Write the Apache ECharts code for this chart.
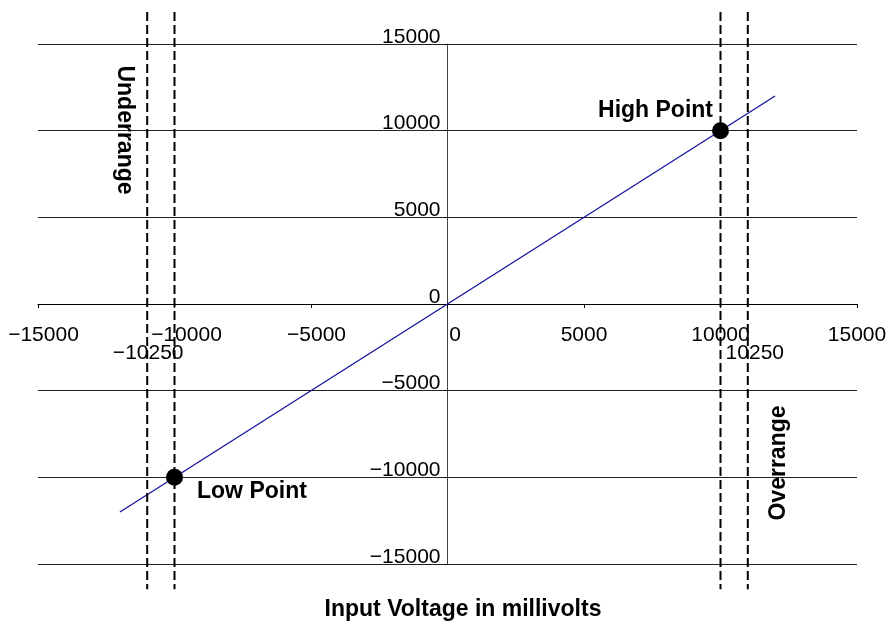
<!DOCTYPE html>
<html>
<head>
<meta charset="utf-8">
<script src="https://cdn.jsdelivr.net/npm/echarts@6/dist/echarts.min.js"></script>
<style>
  html, body { margin: 0; padding: 0; background: #fff; }
  #chart { width: 893px; height: 625px; }
</style>
</head>
<body>
<div id="chart"></div>
<script>
// Transfer line of the converter (input mV -> output counts)
const transferX = [-12000, 12000];
const transferY = [-12000, 12000];

// Calibration points
const pointNames = ['Low Point', 'High Point'];
const pointX = [-10000, 10000];
const pointY = [-10000, 10000];

// Vertical dashed range boundaries
const boundaryX = [-11000, -10000, 10000, 11000];
const boundaryTop = 16850;
const boundaryBottom = -16450;

// Extra labels under the outer boundaries
const boundaryLabelX = [-11000, 11000];
const boundaryLabelText = ['\u221210250', '10250'];

// Axis ticks
const axisMin = -15000;
const axisMax = 15000;
const axisStep = 5000;

const FONT = '"Liberation Sans", Arial, Helvetica, sans-serif';

// plot area geometry; axes cross at the origin, in the middle of the grid
const GRID = { left: 38, top: 44, width: 819, height: 520 };

function fmt(v) {
  return v < 0 ? '\u2212' + Math.abs(v) : String(v);
}

// x tick labels: zero sits right of the y axis, negatives nudged right
function fmtX(v) {
  if (v === 0) return '{z|0}';
  if (v === -10000) return '{m|' + fmt(v) + '}';
  if (v < 0) return '{n|' + fmt(v) + '}';
  return fmt(v);
}

const series = [];

// transfer line
series.push({
  type: 'line',
  data: transferX.map((x, i) => [x, transferY[i]]),
  symbol: 'none',
  lineStyle: { color: '#14149a', width: 1.3 },
  z: 3,
  silent: true
});

// dashed boundaries
boundaryX.forEach(x => {
  series.push({
    type: 'line',
    data: [[x, boundaryTop], [x, boundaryBottom]],
    symbol: 'none',
    clip: false,
    lineStyle: { color: '#000', width: 2, type: [9, 4] },
    z: 4,
    silent: true
  });
});

// calibration points
series.push({
  type: 'scatter',
  data: pointX.map((x, i) => ({
    value: [x, pointY[i]],
    name: pointNames[i],
    label: i === 0
      ? { position: 'right', distance: 14, offset: [0, 14] }
      : { position: 'left', distance: -1, offset: [0, -20] }
  })),
  symbol: 'circle',
  symbolSize: 17,
  itemStyle: { color: '#000', opacity: 1 },
  label: {
    show: true,
    formatter: p => p.name,
    fontFamily: FONT,
    fontWeight: 'bold',
    fontSize: 23,
    color: '#000'
  },
  z: 5,
  silent: true
});

// boundary labels below the x axis labels
series.push({
  type: 'scatter',
  data: boundaryLabelX.map((x, i) => ({
    value: [x, 0],
    name: boundaryLabelText[i],
    label: { offset: [i === 1 ? 7 : 1, 0] }
  })),
  symbolSize: 0,
  clip: false,
  itemStyle: { opacity: 1 },
  label: {
    show: true,
    position: 'bottom',
    distance: 39,
    formatter: p => p.name,
    fontFamily: FONT,
    fontSize: 21,
    color: '#000'
  },
  z: 6,
  silent: true
});

const tickText = { fontFamily: FONT, fontSize: 21, color: '#000' };

const chart = echarts.init(document.getElementById('chart'), null, { renderer: 'canvas' });

chart.setOption({
  animation: false,
  backgroundColor: '#fff',
  grid: {
    left: GRID.left, top: GRID.top, width: GRID.width, height: GRID.height,
    containLabel: false, outerBoundsMode: 'none'
  },
  title: {
    text: 'Input Voltage in millivolts',
    left: 463,
    top: 598,
    textAlign: 'center',
    padding: 0,
    textStyle: { fontFamily: FONT, fontWeight: 'bold', fontSize: 23, color: '#000' }
  },
  xAxis: {
    type: 'value',
    min: axisMin,
    max: axisMax,
    interval: axisStep,
    position: 'bottom',
    offset: -GRID.height / 2,
    axisLine: { onZero: false, lineStyle: { color: '#000', width: 1 } },
    axisTick: { show: true, length: 4, lineStyle: { color: '#000' } },
    axisLabel: Object.assign({}, tickText, {
      margin: 21,
      formatter: fmtX,
      rich: {
        z: Object.assign({}, tickText, { padding: [0, 0, 0, 15] }),
        n: Object.assign({}, tickText, { padding: [0, 0, 0, 11] }),
        m: Object.assign({}, tickText, { padding: [0, 0, 0, 24] })
      }
    }),
    splitLine: { show: false }
  },
  yAxis: {
    type: 'value',
    min: axisMin,
    max: axisMax,
    interval: axisStep,
    position: 'left',
    offset: -GRID.width / 2,
    axisLine: { onZero: false, lineStyle: { color: '#444', width: 1 } },
    axisTick: { show: true, length: 3, lineStyle: { color: '#000' } },
    axisLabel: Object.assign({}, tickText, {
      margin: 7,
      verticalAlign: 'bottom',
      lineHeight: 14,
      formatter: fmt
    }),
    splitLine: { show: true, lineStyle: { color: '#222', width: 1 } }
  },
  graphic: [
    {
      type: 'text',
      x: 124,
      y: 130,
      rotation: -Math.PI / 2,
      style: {
        text: 'Underrange',
        font: 'bold 23px ' + FONT,
        fill: '#000',
        textAlign: 'center',
        textVerticalAlign: 'middle'
      },
      z: 10
    },
    {
      type: 'text',
      x: 779,
      y: 463,
      rotation: Math.PI / 2,
      style: {
        text: 'Overrange',
        font: 'bold 23px ' + FONT,
        fill: '#000',
        textAlign: 'center',
        textVerticalAlign: 'middle'
      },
      z: 10
    }
  ],
  series: series
});
</script>
</body>
</html>
